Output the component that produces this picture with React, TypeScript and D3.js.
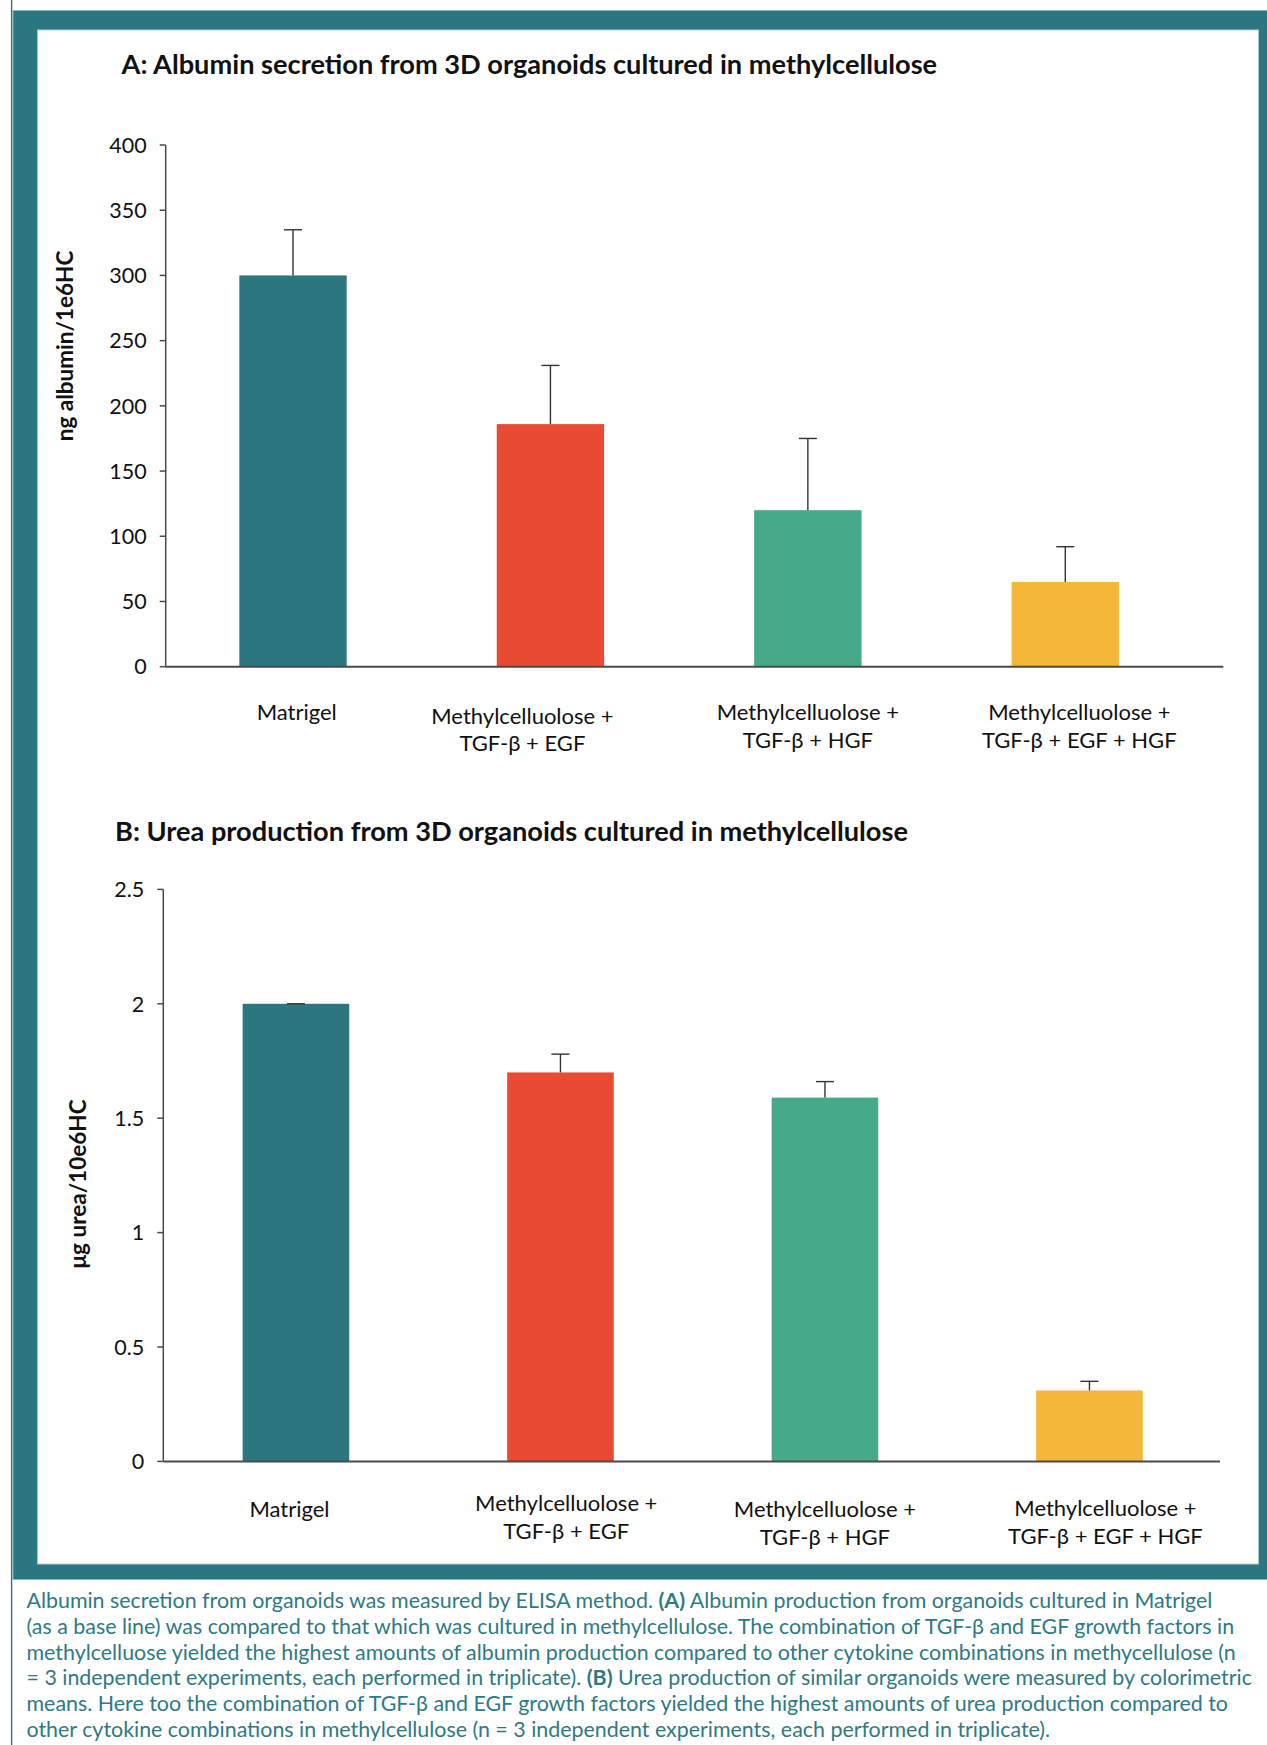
import React from "react";
import * as d3 from "d3";

// ---------- data ----------
const categoryLines: string[][] = [
  ["Matrigel"],
  ["Methylcelluolose +", "TGF-β + EGF"],
  ["Methylcelluolose +", "TGF-β + HGF"],
  ["Methylcelluolose +", "TGF-β + EGF + HGF"],
];
const categories = ["Matrigel", "MC+TGF-β+EGF", "MC+TGF-β+HGF", "MC+TGF-β+EGF+HGF"];

const albuminMeans = [300, 186, 120, 65];
const albuminErrors = [35, 45, 55, 27];
const albuminTicks = [0, 50, 100, 150, 200, 250, 300, 350, 400];

const ureaMeans = [2.0, 1.7, 1.59, 0.31];
const ureaErrors = [0.0, 0.08, 0.07, 0.04];
const ureaTicks = [0, 0.5, 1, 1.5, 2, 2.5];

const barColors = ["#2b7680", "#e84a32", "#45a98a", "#f4b73a"];

const captionLines: { text: string; bold?: boolean }[][] = [
  [
    { text: "Albumin secretion from organoids was measured by ELISA method. " },
    { text: "(A)", bold: true },
    { text: " Albumin production from organoids cultured in Matrigel" },
  ],
  [{ text: "(as a base line) was compared to that which was cultured in methylcellulose. The combination of TGF-β and EGF growth factors in" }],
  [{ text: "methylcelluose yielded the highest amounts of albumin production compared to other cytokine combinations in methycellulose (n" }],
  [
    { text: "= 3 independent experiments, each performed in triplicate). " },
    { text: "(B)", bold: true },
    { text: " Urea production of similar organoids were measured by colorimetric" },
  ],
  [{ text: "means. Here too the combination of TGF-β and EGF growth factors yielded the highest amounts of urea production compared to" }],
  [{ text: "other cytokine combinations in methylcellulose (n = 3 independent experiments, each performed in triplicate)." }],
];

// ---------- style ----------
const TEAL = "#2b7680";
const FONT = "Lato, 'Open Sans', sans-serif";
const INK = "#111";
const AXIS = "#4a4a4a";

type ChartLayout = {
  title: string;
  titleX: number;
  titleY: number;
  yLabel: string;
  yLabelX: number;
  yLabelY: number;
  axisX: number;
  axisEndX: number;
  yTop: number;
  yBottom: number;
  bandStart: number;
  bandEnd: number;
  barFrac: number;
  labelDx: number[];
  labelY: number[];
  domainMax: number;
  ticks: number[];
  means: number[];
  errors: number[];
};

function BarChart(p: ChartLayout) {
  const x = d3.scaleBand<string>().domain(categories).range([p.bandStart, p.bandEnd]).padding(0);
  const y = d3.scaleLinear().domain([0, p.domainMax]).range([p.yBottom, p.yTop]);
  const bw = x.step() * p.barFrac;
  const cap = 18;
  return (
    <g>
      <text x={p.titleX} y={p.titleY} fontFamily={FONT} fontWeight={700} fontSize={27.2} fill={INK}>
        {p.title}
      </text>
      <text
        transform={`translate(${p.yLabelX},${p.yLabelY}) rotate(-90)`}
        textAnchor="middle"
        fontFamily={FONT}
        fontWeight={700}
        fontSize={22.5}
        fill={INK}
      >
        {p.yLabel}
      </text>
      {/* bars */}
      {categories.map((c, i) => {
        const cx = (x(c) as number) + x.bandwidth() / 2;
        return (
          <rect key={c} x={cx - bw / 2} y={y(p.means[i])} width={bw} height={y(0) - y(p.means[i])} fill={barColors[i]} />
        );
      })}
      {/* error bars */}
      {categories.map((c, i) => {
        const cx = (x(c) as number) + x.bandwidth() / 2;
        const top = y(p.means[i] + p.errors[i]);
        return (
          <g key={"e" + c} stroke="#333" strokeWidth={1.4}>
            <line x1={cx} x2={cx} y1={y(p.means[i])} y2={top} />
            <line x1={cx - cap / 2} x2={cx + cap / 2} y1={top} y2={top} />
          </g>
        );
      })}
      {/* y axis */}
      <line x1={p.axisX} x2={p.axisX} y1={p.yTop} y2={p.yBottom} stroke={AXIS} strokeWidth={1.5} />
      {p.ticks.map((t) => (
        <g key={t}>
          <line x1={p.axisX - 6} x2={p.axisX} y1={y(t)} y2={y(t)} stroke={AXIS} strokeWidth={1.5} />
          <text
            x={p.axisX - 19}
            y={y(t)}
            dy="0.36em"
            textAnchor="end"
            fontFamily={FONT}
            fontSize={21.5}
            fill={INK}
          >
            {String(t)}
          </text>
        </g>
      ))}
      {/* x axis */}
      <line x1={p.axisX} x2={p.axisEndX} y1={p.yBottom} y2={p.yBottom} stroke={AXIS} strokeWidth={2} />
      {categories.map((c, i) => {
        const cx = (x(c) as number) + x.bandwidth() / 2 + p.labelDx[i];
        return (
          <text key={"l" + c} x={cx} y={p.labelY[i]} textAnchor="middle" fontFamily={FONT} fontSize={22} fill={INK}>
            {categoryLines[i].map((ln, k) => (
              <tspan key={k} x={cx} dy={k === 0 ? 0 : 27.5}>
                {ln}
              </tspan>
            ))}
          </text>
        );
      })}
    </g>
  );
}

export default function App() {
  const W = 1267;
  const H = 1745;
  return (
    <svg
      width={W}
      height={H}
      viewBox={`0 0 ${W} ${H}`}
      style={{ position: "absolute", left: 0, top: 0, background: "#fff" }}
    >
      <rect x={0} y={0} width={W} height={H} fill="#fff" />
      {/* left thin rule */}
      <line x1={11.6} x2={11.6} y1={0} y2={H} stroke={TEAL} strokeWidth={1.4} />
      {/* frame */}
      <rect x={12.8} y={10} width={W - 12.8} height={1569.5} fill={TEAL} />
      <line x1={13} x2={13} y1={10} y2={1579.5} stroke="#8fb6bb" strokeWidth={1} />
      <line x1={13} x2={W} y1={10.5} y2={10.5} stroke="#8fb6bb" strokeWidth={1} />
      <rect x={37.7} y={30} width={1258.3 - 37.7} height={1564 - 30} fill="#fff" stroke="#b7d0d3" strokeWidth={1} />

      <BarChart
        title="A: Albumin secretion from 3D organoids cultured in methylcellulose"
        titleX={121.5}
        titleY={74}
        yLabel="ng albumin/1e6HC"
        yLabelX={73}
        yLabelY={346}
        axisX={165.7}
        axisEndX={1223.3}
        yTop={145}
        yBottom={666.7}
        bandStart={164.3}
        bandEnd={1194}
        barFrac={0.417}
        labelDx={[3.7, -28, 0, 14]}
        labelY={[720, 723.5, 720, 720]}
        domainMax={400}
        ticks={albuminTicks}
        means={albuminMeans}
        errors={albuminErrors}
      />

      <BarChart
        title="B: Urea production from 3D organoids cultured in methylcellulose"
        titleX={115}
        titleY={841}
        yLabel="μg urea/10e6HC"
        yLabelX={86}
        yLabelY={1184}
        axisX={163.3}
        axisEndX={1220}
        yTop={889.4}
        yBottom={1461.4}
        bandStart={163.7}
        bandEnd={1221.7}
        barFrac={0.403}
        labelDx={[-6.5, 5.8, 0, 16]}
        labelY={[1516.7, 1511, 1517, 1516]}
        domainMax={2.5}
        ticks={ureaTicks}
        means={ureaMeans}
        errors={ureaErrors}
      />

      {/* caption */}
      <g fontFamily={FONT} fontSize={21.4} fill="#2d7a83">
        {captionLines.map((segs, i) => (
          <text key={i} x={26.5} y={1608.3 + i * 25.7}>
            {segs.map((s, k) => (
              <tspan key={k} fontWeight={s.bold ? 700 : 400}>
                {s.text}
              </tspan>
            ))}
          </text>
        ))}
      </g>
    </svg>
  );
}
